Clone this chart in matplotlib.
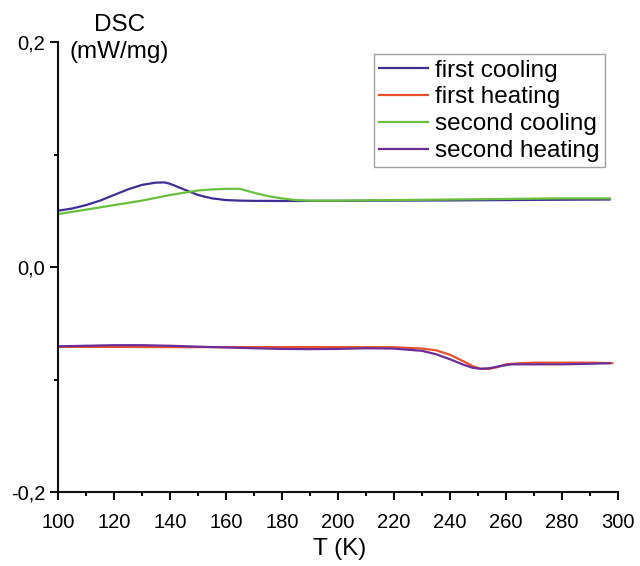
import numpy as np
import matplotlib
matplotlib.use("Agg")
import matplotlib.pyplot as plt
from matplotlib.ticker import MultipleLocator, FixedLocator, FixedFormatter

plt.rcParams['font.family'] = ['Liberation Sans', 'DejaVu Sans']

# Data

t_cool1 = [100, 105, 110, 115, 120, 125, 130, 135, 138, 140, 145, 150, 155, 160,
           165, 170, 180, 200, 220, 240, 260, 280, 297]
dsc_cool1 = [0.050, 0.052, 0.055, 0.059, 0.064, 0.069, 0.073, 0.075, 0.0752, 0.074,
             0.069, 0.064, 0.061, 0.0595, 0.059, 0.0588, 0.0587, 0.0588, 0.059,
             0.0592, 0.0595, 0.0598, 0.060]

t_cool2 = [100, 110, 120, 130, 140, 150, 155, 160, 165, 170, 175, 180, 185, 190,
           200, 220, 240, 260, 280, 297]
dsc_cool2 = [0.047, 0.051, 0.055, 0.059, 0.064, 0.068, 0.069, 0.0695, 0.0695, 0.066,
             0.063, 0.061, 0.0595, 0.059, 0.059, 0.0595, 0.060, 0.0605, 0.061, 0.061]

t_heat1 = [100, 120, 140, 160, 180, 200, 220, 230, 235, 240, 245, 248, 251, 254,
           257, 260, 265, 270, 280, 290, 298]
dsc_heat1 = [-0.071, -0.071, -0.0712, -0.0712, -0.0712, -0.0712, -0.0713, -0.0725,
             -0.074, -0.078, -0.084, -0.088, -0.0905, -0.0905, -0.089, -0.0865,
             -0.0855, -0.085, -0.085, -0.085, -0.0855]

t_heat2 = [100, 110, 120, 130, 140, 150, 160, 170, 180, 190, 200, 210, 220, 230,
           235, 240, 245, 248, 251, 254, 258, 262, 270, 280, 290, 297]
dsc_heat2 = [-0.0705, -0.0700, -0.0695, -0.0695, -0.0700, -0.0708, -0.0715, -0.0722,
             -0.0728, -0.0730, -0.0728, -0.0722, -0.0725, -0.0745, -0.0775, -0.082,
             -0.087, -0.0895, -0.0905, -0.0900, -0.088, -0.0865, -0.0865, -0.0865,
             -0.086, -0.0855]

x_ticks = [100, 120, 140, 160, 180, 200, 220, 240, 260, 280, 300]
y_ticks = [-0.2, 0.0, 0.2]
y_labels = ['-0,2', '0,0', '0,2']

# Figure

fig = plt.figure(figsize=(6.4, 5.66), dpi=100)
ax = fig.add_axes([0.0906, 0.1307, 0.875, 0.7951])

ax.plot(t_cool1, dsc_cool1, color='#3d2e96', lw=1.6, label='first cooling')
ax.plot(t_heat1, dsc_heat1, color='#e8522a', lw=1.6, label='first heating')
ax.plot(t_cool2, dsc_cool2, color='#6abf3f', lw=1.6, label='second cooling')
ax.plot(t_heat2, dsc_heat2, color='#6a2d9a', lw=1.6, label='second heating')

ax.set_xlim(100, 300)
ax.set_ylim(-0.2, 0.2)

for s in ['top', 'right']:
    ax.spines[s].set_visible(False)
for s in ['left', 'bottom']:
    ax.spines[s].set_linewidth(1.5)
    ax.spines[s].set_color('#111111')

ax.xaxis.set_major_locator(FixedLocator(x_ticks))
ax.xaxis.set_minor_locator(MultipleLocator(10))
ax.yaxis.set_major_locator(FixedLocator(y_ticks))
ax.yaxis.set_major_formatter(FixedFormatter(y_labels))
ax.yaxis.set_minor_locator(MultipleLocator(0.1))

ax.tick_params(which='major', direction='out', length=6, width=1.5, labelsize=14.5,
               color='#111111')
ax.tick_params(axis='x', which='major', pad=9)
ax.tick_params(axis='y', which='major', pad=3)
ax.tick_params(which='minor', direction='out', length=3, width=1.5, color='#111111')

leg = ax.legend(loc='upper right', bbox_to_anchor=(0.977, 0.973), fontsize=17.5,
                frameon=True, fancybox=False, handlelength=2.0, handletextpad=0.3,
                labelspacing=0.2, borderpad=0.22, borderaxespad=0)
leg.get_frame().set_edgecolor('#888888')
leg.get_frame().set_linewidth(1.0)

fig.text(0.187, 0.956, 'DSC', ha='center', va='center', fontsize=17.5)
fig.text(0.187, 0.909, '(mW/mg)', ha='center', va='center', fontsize=17.5)
fig.text(0.530, 0.030, 'T (K)', ha='center', va='center', fontsize=17.5)

fig.savefig('out.png', dpi=100)
